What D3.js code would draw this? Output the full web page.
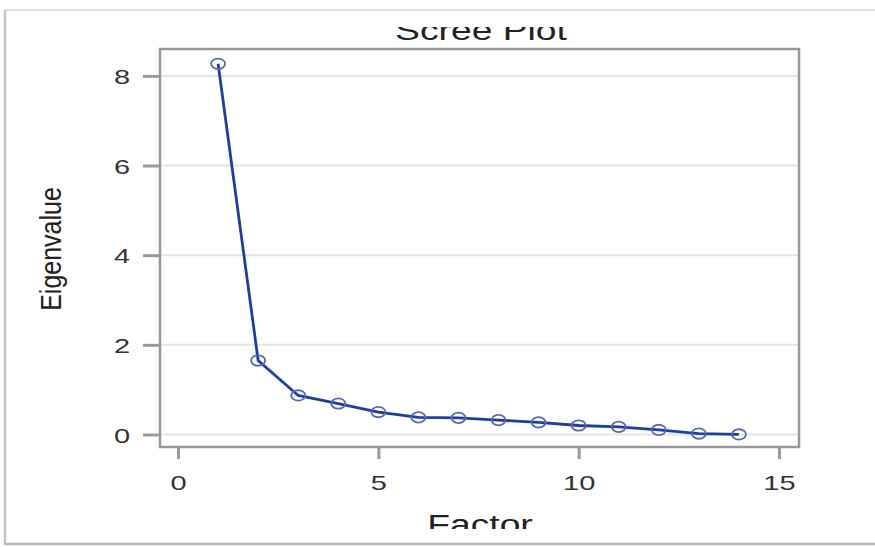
<!DOCTYPE html>
<html lang="en">
<head>
    <meta charset="UTF-8">
    <title>Scree Plot</title>
</head>
<script type="text/javascript" src="https://d3js.org/d3.v7.min.js"></script>
<style>
  body { margin:0; background:#fff; }
  text { font-family:"Liberation Sans", Arial, sans-serif; fill:#333; }
  .domain { display:none; }
  .tick line { stroke:#999; stroke-width:3px; }
  path.scree {
      fill:none;
      stroke:#1f3d9e;
      stroke-width:2.8px;
  }
  ellipse.pt {
      fill:none;
      stroke:#5567b8;
      stroke-width:1.8px;
  }
</style>
<body>
    <script>
      var factors = [1,2,3,4,5,6,7,8,9,10,11,12,13,14];
      var eigenvalues = [8.27,1.65,0.87,0.69,0.5,0.38,0.37,0.32,0.27,0.2,0.17,0.1,0.02,0.0];
      var xTicks = [0,5,10,15];
      var yTicks = [0,2,4,6,8];

      var width = 875, height = 547;
      var boxLeft = 160, boxRight = 799, boxTop = 49, boxBottom = 447;
      var stretch = 1.38;

      var xScale = d3.scaleLinear().domain([-0.45, 15.5]).range([boxLeft, boxRight]);
      var yScale = d3.scaleLinear().domain([-0.28, 8.6]).range([boxBottom, boxTop]);

      var svg = d3.select("body").append("svg")
                  .attr("width", width)
                  .attr("height", height);

      // screenshot frame
      svg.append("line").attr("x1",5).attr("x2",875).attr("y1",10).attr("y2",10)
         .attr("stroke","#e3e3e3").attr("stroke-width",2);
      svg.append("line").attr("x1",5).attr("x2",5).attr("y1",10).attr("y2",545)
         .attr("stroke","#c4c4c4").attr("stroke-width",2.5);
      svg.append("line").attr("x1",5).attr("x2",875).attr("y1",544).attr("y2",544)
         .attr("stroke","#b8b8b8").attr("stroke-width",2.5);

      svg.append("clipPath").attr("id","cut")
         .append("rect").attr("x",7).attr("y",27).attr("width",868).attr("height",502);

      var chart = svg.append("g").attr("clip-path","url(#cut)");

      // gridlines
      chart.append("g").selectAll("line").data(yTicks).enter().append("line")
           .attr("x1", boxLeft).attr("x2", boxRight)
           .attr("y1", function(d){ return yScale(d); })
           .attr("y2", function(d){ return yScale(d); })
           .attr("stroke","#e4e4e4").attr("stroke-width",2);

      // axes
      var yAxis = chart.append("g").attr("transform","translate("+boxLeft+",0)")
                       .call(d3.axisLeft(yScale).tickValues(yTicks).tickSize(17).tickPadding(0));
      yAxis.selectAll("text")
           .attr("x", -30/stretch)
           .attr("dy","0.36em")
           .attr("transform","scale("+stretch+",1)")
           .style("font-size","21px");

      var xAxis = chart.append("g").attr("transform","translate(0,"+boxBottom+")")
                       .call(d3.axisBottom(xScale).tickValues(xTicks).tickSize(12).tickPadding(0));
      xAxis.selectAll("text")
           .attr("y", 35)
           .attr("dy","0.36em")
           .attr("transform","scale("+stretch+",1)")
           .style("font-size","21px");

      // plot box
      chart.append("rect")
           .attr("x", boxLeft).attr("y", boxTop)
           .attr("width", boxRight-boxLeft).attr("height", boxBottom-boxTop)
           .attr("fill","none").attr("stroke","#999").attr("stroke-width",2.5);

      var line = d3.line()
                   .x(function(d,i){ return xScale(factors[i]); })
                   .y(function(d){ return yScale(d); });

      chart.append("path").attr("d", line(eigenvalues)).classed("scree", true);

      chart.append("g").selectAll("ellipse").data(eigenvalues).enter().append("ellipse")
           .classed("pt", true)
           .attr("cx", function(d,i){ return xScale(factors[i]); })
           .attr("cy", function(d){ return yScale(d); })
           .attr("rx", 7).attr("ry", 5.2);

      // titles
      chart.append("text")
           .attr("transform","translate(481,40) scale("+stretch+",1)")
           .attr("text-anchor","middle")
           .style("font-size","27px").style("fill","#222")
           .text("Scree Plot");

      chart.append("text")
           .attr("transform","translate(480,534) scale("+stretch+",1)")
           .attr("text-anchor","middle")
           .style("font-size","27px").style("fill","#222")
           .text("Factor");

      chart.append("text")
           .attr("transform","translate(61,249) rotate(-90) scale(1,1.15)")
           .attr("text-anchor","middle")
           .style("font-size","25px").style("fill","#222")
           .text("Eigenvalue");
    </script>
</body>
</html>
